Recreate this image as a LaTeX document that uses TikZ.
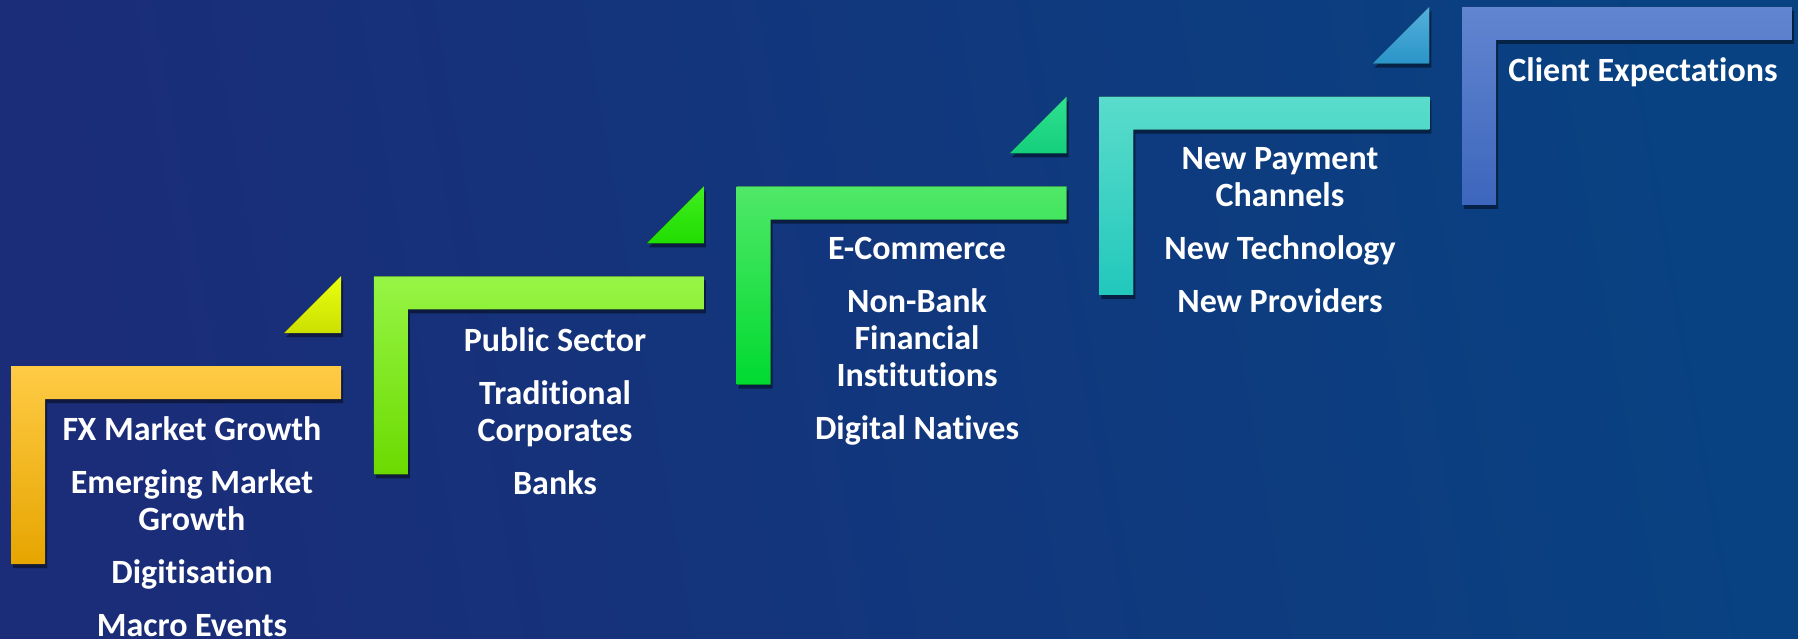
\documentclass[tikz,border=0pt]{standalone}
\usepackage{fontspec}
\setmainfont{Carlito}[Ligatures=NoCommon]
\usetikzlibrary{shadows}
\definecolor{bgL}{RGB}{27,44,120}
\definecolor{bgR}{RGB}{8,66,130}
\definecolor{c1t}{HTML}{FFCB45}\definecolor{c1m}{HTML}{FFC000}\definecolor{c1b}{HTML}{E6A500}
\definecolor{c2t}{HTML}{96F545}\definecolor{c2m}{HTML}{80F000}\definecolor{c2b}{HTML}{6CDA00}
\definecolor{c3t}{HTML}{50E868}\definecolor{c3m}{HTML}{1EEA40}\definecolor{c3b}{HTML}{00DA30}
\definecolor{c4t}{HTML}{5ADCCB}\definecolor{c4m}{HTML}{2ED9CD}\definecolor{c4b}{HTML}{22C8BC}
\definecolor{c5t}{HTML}{6285D0}\definecolor{c5m}{HTML}{4672CA}\definecolor{c5b}{HTML}{3C66BC}
\definecolor{t1t}{HTML}{E8FF10}\definecolor{t1b}{HTML}{CCE000}
\definecolor{t2t}{HTML}{40EE20}\definecolor{t2b}{HTML}{20DD00}
\definecolor{t3t}{HTML}{30E090}\definecolor{t3b}{HTML}{14CF7C}
\definecolor{t4t}{HTML}{55B0DC}\definecolor{t4b}{HTML}{2A94C8}
\tikzset{
  shad/.style={drop shadow={shadow xshift=2pt,shadow yshift=-4pt,opacity=0.45,fill=black}},
  lbl/.style={text=white,font=\fontsize{34}{37}\selectfont\bfseries,align=center,anchor=north,inner sep=0pt},
}
\begin{document}
\begin{tikzpicture}[x=1pt,y=-1pt]
\useasboundingbox (0,0) rectangle (1798,639);
\shade[left color=bgL,right color=bgR,shading angle=100] (0,0) rectangle (1798,639);
% L-shapes
\foreach \k/\cc in {0/1,1/2,2/3,3/4,4/5}{
  \pgfmathsetmacro{\l}{11+362.75*\k}
  \pgfmathsetmacro{\t}{366-89.75*\k}
  \fill[shad,top color=c\cc t,middle color=c\cc m,bottom color=c\cc b]
    (\l,\t) -- ++(330,0) -- ++(0,33) -- ++(-296,0) -- ++(0,165) -- ++(-34,0) -- cycle;
}
% triangles
\foreach \k/\cc in {0/1,1/2,2/3,3/4}{
  \pgfmathsetmacro{\r}{341+362.75*\k}
  \pgfmathsetmacro{\t}{366-89.75*\k}
  \fill[shad,top color=t\cc t,bottom color=t\cc b]
    (\r-57,\t-33) -- (\r,\t-33) -- (\r,\t-90) -- cycle;
}
% texts
\node[lbl] (s1) at (192,416) {FX Market Growth\\[16pt]Emerging Market\\Growth\\[16pt]Digitisation\\[16pt]Macro Events};
\node[lbl] (s2) at (555,327) {Public Sector\\[16pt]Traditional\\Corporates\\[16pt]Banks};
\node[lbl] (s3) at (917,237) {E-Commerce\\[16pt]Non-Bank\\Financial\\Institutions\\[16pt]Digital Natives};
\node[lbl] (s4) at (1280,147) {New Payment\\Channels\\[16pt]New Technology\\[16pt]New Providers};
\node[lbl] (s5) at (1643,57) {Client Expectations};
\end{tikzpicture}
\end{document}
